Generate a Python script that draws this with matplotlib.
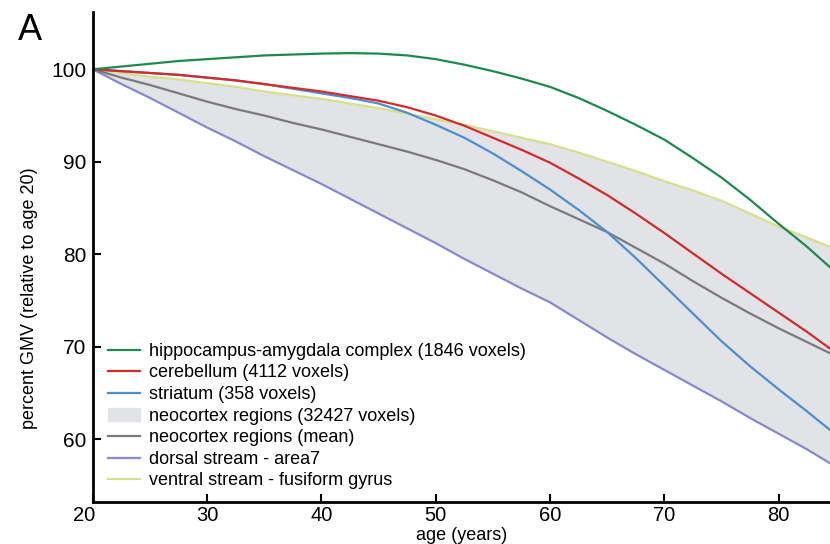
import numpy as np
import matplotlib.pyplot as plt
from matplotlib.patches import Patch
from matplotlib.lines import Line2D
import matplotlib.transforms as mtransforms

plt.rcParams['font.family'] = ['Liberation Sans', 'DejaVu Sans']

# ages (years) and percent GMV
age = [20, 22.5, 25, 27.5, 30, 32.5, 35, 37.5, 40, 42.5, 45, 47.5, 50, 52.5,
       55, 57.5, 60, 62.5, 65, 67.5, 70, 72.5, 75, 77.5, 80, 82.5, 84.5]

hippo = [100.0, 100.3, 100.6, 100.9, 101.1, 101.3, 101.5, 101.6, 101.7, 101.75,
         101.7, 101.5, 101.1, 100.5, 99.8, 99.0, 98.1, 96.9, 95.5, 94.0,
         92.4, 90.4, 88.3, 85.9, 83.3, 80.8, 78.6]
cereb = [100.0, 99.8, 99.6, 99.4, 99.1, 98.8, 98.4, 98.0, 97.6, 97.1,
         96.6, 95.9, 95.0, 93.9, 92.6, 91.3, 89.9, 88.2, 86.4, 84.4,
         82.3, 80.1, 77.9, 75.8, 73.7, 71.6, 69.8]
striat = [100.0, 99.8, 99.6, 99.4, 99.1, 98.8, 98.4, 97.9, 97.4, 96.9,
          96.3, 95.3, 94.0, 92.6, 90.9, 89.0, 87.0, 84.8, 82.4, 79.6,
          76.6, 73.6, 70.6, 67.9, 65.4, 63.0, 61.0]
neo_mean = [100.0, 99.1, 98.3, 97.4, 96.5, 95.7, 95.0, 94.2, 93.5, 92.7,
            91.9, 91.1, 90.2, 89.2, 88.0, 86.7, 85.2, 83.8, 82.4, 80.7,
            79.0, 77.1, 75.3, 73.6, 72.0, 70.5, 69.3]
dorsal = [100.0, 98.4, 96.9, 95.3, 93.7, 92.2, 90.6, 89.1, 87.6, 86.0,
          84.4, 82.8, 81.2, 79.5, 77.9, 76.3, 74.8, 72.9, 71.0, 69.2,
          67.5, 65.8, 64.1, 62.3, 60.6, 58.9, 57.4]
ventral = [100.0, 99.6, 99.2, 98.9, 98.5, 98.1, 97.6, 97.2, 96.8, 96.3,
           95.8, 95.2, 94.6, 94.0, 93.3, 92.6, 91.9, 91.0, 90.0, 89.0,
           87.9, 86.9, 85.8, 84.4, 83.0, 81.8, 80.8]

labels = ['hippocampus-amygdala complex (1846 voxels)',
          'cerebellum (4112 voxels)',
          'striatum (358 voxels)',
          'neocortex regions (32427 voxels)',
          'neocortex regions (mean)',
          'dorsal stream - area7',
          'ventral stream - fusiform gyrus']

c_green = '#1d8a50'
c_red = '#d42a2a'
c_blue = '#4a8fd4'
c_gray = '#7a7a7a'
c_purple = '#8a88cc'
c_yellow = '#d6e08c'
c_fill = '#e1e3e7'

fig = plt.figure(figsize=(8.3, 5.44), dpi=100)
ax = fig.add_axes([0.112, 0.077, 0.888, 0.901])

lw = 1.6
ax.fill_between(age, dorsal, ventral, color=c_fill, lw=0)
ax.plot(age, dorsal, color=c_purple, lw=lw)
ax.plot(age, ventral, color=c_yellow, lw=lw)
ax.plot(age, neo_mean, color=c_gray, lw=lw)
ax.plot(age, striat, color=c_blue, lw=lw)
ax.plot(age, cereb, color=c_red, lw=lw)
ax.plot(age, hippo, color=c_green, lw=lw)

ax.set_xlim(20, 84.5)
ax.set_ylim(53.2, 106.2)
ax.set_xticks([20, 30, 40, 50, 60, 70, 80])
ax.set_yticks([60, 70, 80, 90, 100])

for s in ['top', 'right']:
    ax.spines[s].set_visible(False)
for s in ['left', 'bottom']:
    ax.spines[s].set_linewidth(2)
ax.tick_params(direction='in', length=6, width=1.5, labelsize=15, pad=5)
ax.tick_params(axis='x', labelsize=14.5, pad=3)

# first x label sits a bit left of its tick, clear of the y axis
first = ax.get_xticklabels()[0]
first.set_transform(first.get_transform() +
                    mtransforms.ScaledTranslation(-9 / 100, 0, fig.dpi_scale_trans))

ax.set_xlabel('age (years)', fontsize=13)
ax.xaxis.set_label_coords(0.5, -0.05)
ax.set_ylabel('percent GMV (relative to age 20)', fontsize=13)
ax.yaxis.set_label_coords(-0.0746, 0.416)

handles = [Line2D([], [], color=c_green, lw=lw),
           Line2D([], [], color=c_red, lw=lw),
           Line2D([], [], color=c_blue, lw=lw),
           Patch(color=c_fill),
           Line2D([], [], color=c_gray, lw=lw),
           Line2D([], [], color=c_purple, lw=lw),
           Line2D([], [], color=c_yellow, lw=lw)]
ax.legend(handles, labels, loc='lower left', bbox_to_anchor=(0.003, 0.0),
          frameon=False, fontsize=13, handlelength=1.8, handletextpad=0.5,
          labelspacing=0.255, borderpad=0.2)

fig.text(0.0217, 0.976, 'A', fontsize=26, va='top')

fig.savefig('out.png', dpi=100)
